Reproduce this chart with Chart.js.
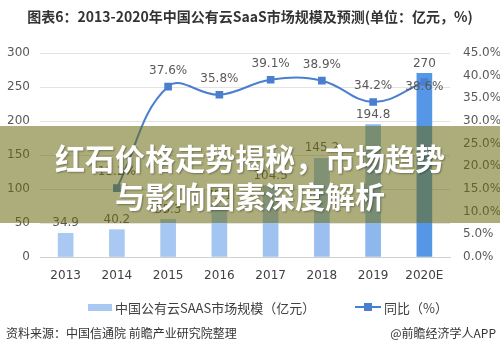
<!DOCTYPE html>
<html>
<head>
<meta charset="utf-8">
<script src="https://cdn.jsdelivr.net/npm/chart.js@4"></script>
<style>
  body { margin: 0; background: #fff; font-family: "Noto Sans CJK SC", "Noto Sans", sans-serif; }
  #wrap { position: relative; width: 500px; height: 350px; overflow: hidden; }
  #chart { position: absolute; left: 0; top: 0; }
  .txt { position: absolute; white-space: nowrap; }
  #title { left: 0; width: 500px; top: 6px; text-align: center; font-size: 14px; font-weight: bold; color: #333; }
  #legend { top: 296px; left: 88px; font-size: 13px; color: #404040; }
  #legend span { display: inline-block; vertical-align: middle; }
  #src { left: 6px; top: 324px; font-size: 12px; color: #333; }
  #app { right: 4px; top: 324px; font-size: 12px; color: #333; }
  #band { position: absolute; left: 0; top: 126px; width: 500px; height: 97px; background: rgba(105,105,15,0.55); }
  #band div { text-align: center; color: #fff; font-weight: bold; font-size: 30px; line-height: 38px; text-shadow: 1px 1px 2px rgba(0,0,0,0.35); }
</style>
</head>
<body>
<div id="wrap">
  <canvas id="chart" width="500" height="350"></canvas>
  <div id="title" class="txt">图表6：2013-2020年中国公有云SaaS市场规模及预测(单位：亿元，%)</div>
  <div id="legend" class="txt">
    <span style="width:24px;height:7px;background:#a9c9f2;"></span>
    <span>中国公有云SAAS市场规模（亿元）</span>
    <span style="width:34px;"></span>
    <span style="position:relative;width:26px;height:10px;">
      <span style="position:absolute;left:0;top:4px;width:26px;height:2px;background:#4a7fd0;"></span>
      <span style="position:absolute;left:9px;top:1px;width:8px;height:8px;background:#4a7fd0;"></span>
    </span>
    <span>同比（%）</span>
  </div>
  <div id="src" class="txt">资料来源：中国信通院 前瞻产业研究院整理</div>
  <div id="app" class="txt">@前瞻经济学人APP</div>
  <div id="band">
    <div style="margin-top:12px;">红石价格走势揭秘，市场趋势</div>
    <div>与影响因素深度解析</div>
  </div>
</div>
<script>
const years = ['2013', '2014', '2015', '2016', '2017', '2018', '2019', '2020E'];
const marketSize = [34.9, 40.2, 55.3, 75.1, 104.5, 145.2, 194.8, 270];
const growthRate = [null, 15.2, 37.6, 35.8, 39.1, 38.9, 34.2, 38.6];
const leftTicks = [0, 50, 100, 150, 200, 250, 300];
const rightTicks = [0, 5, 10, 15, 20, 25, 30, 35, 40, 45];

const barColors = ['#a9c9f2', '#a9c9f2', '#a6c7f2', '#a3c5f1', '#9fc2f0', '#9bc0f0', '#8db8ee', '#5597e6'];

// value labels above bars and points
const valueLabels = {
    id: 'valueLabels',
    afterDatasetsDraw(chart) {
        const ctx = chart.ctx;
        ctx.save();
        ctx.font = '12px "DejaVu Sans", sans-serif';
        ctx.textAlign = 'center';
        ctx.fillStyle = '#595959';
        chart.getDatasetMeta(0).data.forEach((bar, i) => {
            ctx.textBaseline = 'bottom';
            ctx.fillText(String(marketSize[i]), bar.x, bar.y - 4);
        });
        const pts = chart.getDatasetMeta(1).data;
        pts.forEach((pt, i) => {
            if (growthRate[i] == null) return;
            const last = i === pts.length - 1;
            ctx.textBaseline = 'middle';
            ctx.fillText(growthRate[i].toFixed(1) + '%', pt.x, last ? pt.y + 5 : pt.y - 16);
        });
        ctx.restore();
    }
};

const tickFont = { family: '"DejaVu Sans", sans-serif', size: 12 };

new Chart(document.getElementById('chart'), {
    data: {
        labels: years,
        datasets: [{
            type: 'bar',
            label: '中国公有云SAAS市场规模（亿元）',
            data: marketSize,
            backgroundColor: barColors,
            barThickness: 15,
            yAxisID: 'y',
            order: 2
        }, {
            type: 'line',
            label: '同比（%）',
            data: growthRate,
            borderColor: '#4a7fd0',
            backgroundColor: '#4a7fd0',
            borderWidth: 2,
            tension: 0.4,
            pointStyle: 'rect',
            pointRadius: 4,
            yAxisID: 'y1',
            order: 1
        }]
    },
    options: {
        responsive: false,
        animation: false,
        layout: { padding: { top: 53, bottom: 70, left: 0, right: 0 } },
        plugins: {
            legend: { display: false },
            tooltip: { enabled: false }
        },
        scales: {
            x: {
                grid: { display: false },
                border: { color: '#d0d0d0' },
                ticks: { color: '#404040', font: tickFont, padding: 4 },
                afterFit: s => { s.height = 23; }
            },
            y: {
                position: 'left',
                min: 0,
                max: 300,
                afterBuildTicks: s => { s.ticks = leftTicks.map(v => ({ value: v })); },
                grid: { color: '#e3e3e3', drawTicks: false },
                border: { display: false },
                ticks: { color: '#595959', font: tickFont, padding: 10 },
                afterFit: s => { s.width = 40; }
            },
            y1: {
                position: 'right',
                min: 0,
                max: 45,
                afterBuildTicks: s => { s.ticks = rightTicks.map(v => ({ value: v })); },
                grid: { display: false, drawTicks: false },
                border: { display: false },
                ticks: {
                    color: '#595959',
                    font: tickFont,
                    padding: 13,
                    callback: v => v.toFixed(1) + '%'
                },
                afterFit: s => { s.width = 50; }
            }
        }
    },
    plugins: [valueLabels]
});
</script>
</body>
</html>
